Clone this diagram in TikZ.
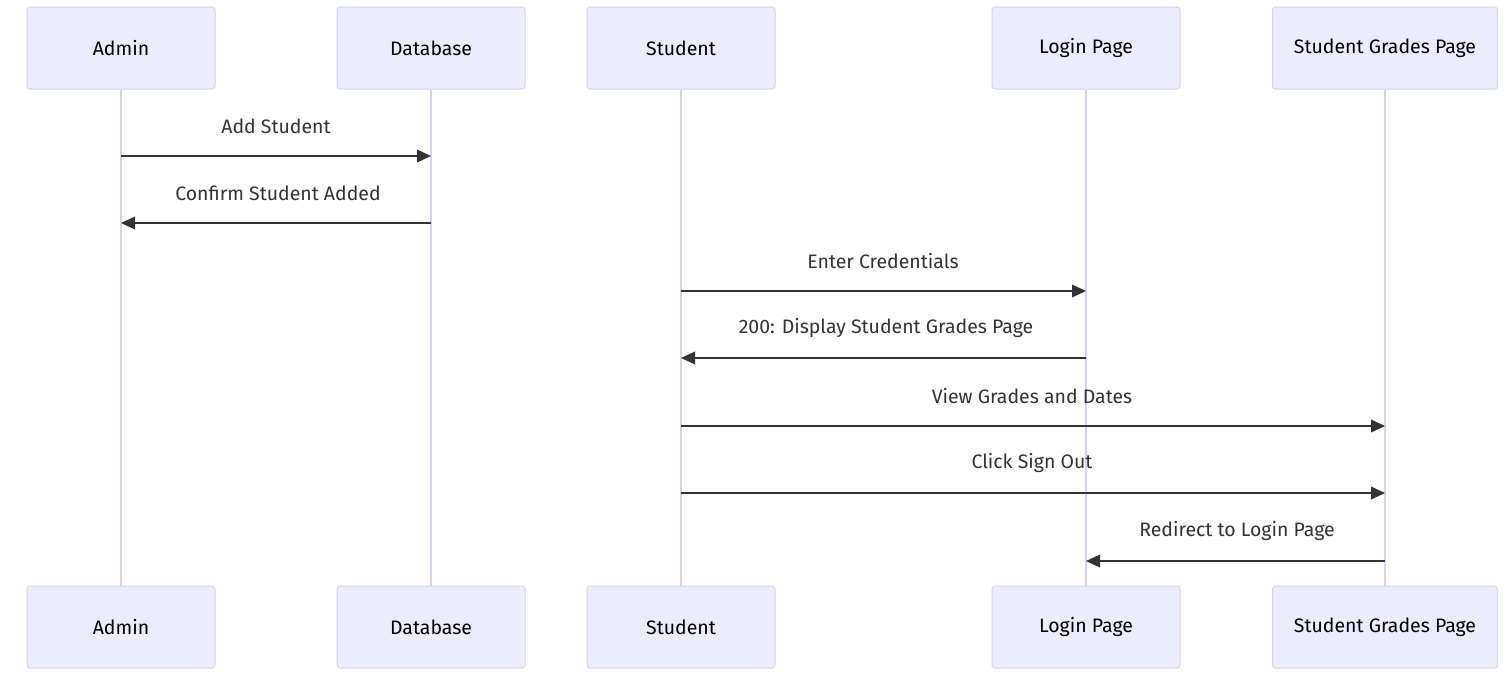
\documentclass[tikz,border=0pt]{standalone}
\usepackage{fontspec}
\setmainfont{Fira Sans}
\usepackage{xcolor}
\usepackage{tikz}
\usetikzlibrary{arrows.meta}
\definecolor{actfill}{HTML}{ECECFF}
\definecolor{actline}{HTML}{D8CFF2}
\definecolor{msgline}{HTML}{333333}

\begin{document}
\begin{tikzpicture}[x=0.75pt,y=-0.75pt,
  actor/.style={rectangle,rounded corners=2.25pt,draw=actline,fill=actfill,line width=0.75pt,minimum width=141pt,minimum height=61.5pt,font=\fontsize{14.6}{16}\selectfont,text=black},
  life/.style={draw=actline,line width=1.5pt},
  msg/.style={draw=msgline,line width=1.1pt,-{Triangle[length=10.5pt,width=9.5pt]}},
  lbl/.style={font=\fontsize{14.6}{16}\selectfont,text=msgline}]
\useasboundingbox (0,0) rectangle (1512,689);
% actors
\node (a1) at (121,48) [actor] {Admin};
\node (d1) at (431,48) [actor] {Database};
\node (s1) at (681,48) [actor] {Student};
\node (l1) at (1086,48) [actor] {Login Page};
\node (g1) at (1385,48) [actor,minimum width=168.75pt] {Student Grades Page};
\node (a2) at (121,627) [actor] {Admin};
\node (d2) at (431,627) [actor] {Database};
\node (s2) at (681,627) [actor] {Student};
\node (l2) at (1086,627) [actor] {Login Page};
\node (g2) at (1385,627) [actor,minimum width=168.75pt] {Student Grades Page};
% lifelines
\draw[life] (a1) -- (a2);
\draw[life] (d1) -- (d2);
\draw[life] (s1) -- (s2);
\draw[life] (l1) -- (l2);
\draw[life] (g1) -- (g2);
% message ends
\coordinate (m1a) at (121,156); \coordinate (m1b) at (431,156);
\coordinate (m2a) at (431,223); \coordinate (m2b) at (121,223);
\coordinate (m3a) at (681,291); \coordinate (m3b) at (1086,291);
\coordinate (m4a) at (1086,358); \coordinate (m4b) at (681,358);
\coordinate (m5a) at (681,426); \coordinate (m5b) at (1385,426);
\coordinate (m6a) at (681,493); \coordinate (m6b) at (1385,493);
\coordinate (m7a) at (1385,561); \coordinate (m7b) at (1086,561);
% messages
\draw[msg] (m1a) -- (m1b);
\draw[msg] (m2a) -- (m2b);
\draw[msg] (m3a) -- (m3b);
\draw[msg] (m4a) -- (m4b);
\draw[msg] (m5a) -- (m5b);
\draw[msg] (m6a) -- (m6b);
\draw[msg] (m7a) -- (m7b);
\node (t1) at (276,126) [lbl] {Add Student};
\node (t2) at (278,193) [lbl] {Confirm Student Added};
\node (t3) at (883,261) [lbl] {Enter Credentials};
\node (t4) at (886,328) [lbl] {200: Display Student Grades Page};
\node (t5) at (1032,396) [lbl] {View Grades and Dates};
\node (t6) at (1032,463) [lbl] {Click Sign Out};
\node (t7) at (1237,531) [lbl] {Redirect to Login Page};
\end{tikzpicture}
\end{document}
